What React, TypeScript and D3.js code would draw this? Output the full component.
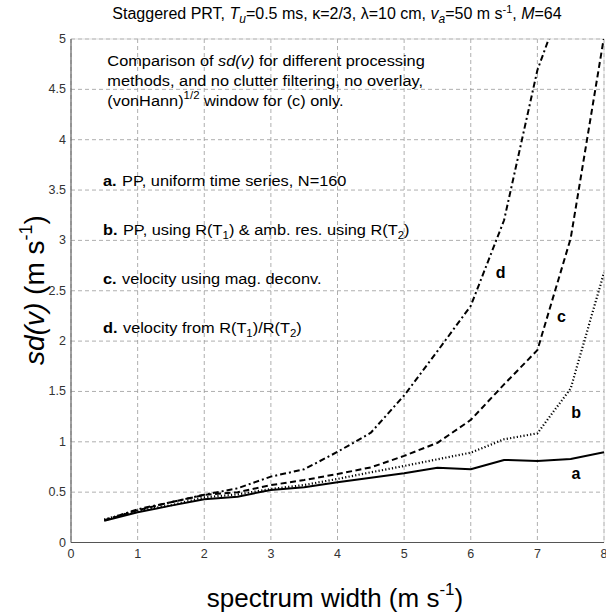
import React from "react";
import * as d3 from "d3";

// Spectrum width (m s^-1) at which each method was evaluated
const widths = [0.5, 1, 1.5, 2, 2.5, 3, 3.5, 4, 4.5, 5, 5.5, 6, 6.5, 7, 7.5, 8];

// sd(v) in m s^-1 for each processing method
const sdA = [0.216, 0.3, 0.366, 0.429, 0.455, 0.522, 0.548, 0.598, 0.644, 0.688, 0.743, 0.727, 0.82, 0.81, 0.83, 0.896];
const sdB = [0.23, 0.316, 0.37, 0.448, 0.478, 0.531, 0.571, 0.631, 0.697, 0.76, 0.826, 0.892, 1.025, 1.084, 1.53, 2.68];
const sdC = [0.22, 0.32, 0.4, 0.472, 0.5, 0.57, 0.62, 0.68, 0.746, 0.86, 0.99, 1.217, 1.57, 1.91, 3.02, 5.02];
const sdD = [0.22, 0.33, 0.4, 0.475, 0.538, 0.654, 0.727, 0.9, 1.09, 1.46, 1.9, 2.35, 3.2, 4.69, 5.6, 6.5];

const xTicks = [0, 1, 2, 3, 4, 5, 6, 7, 8];
const yTicks = [0, 0.5, 1, 1.5, 2, 2.5, 3, 3.5, 4, 4.5, 5];

const W = 606;
const H = 615;
const left = 71;
const right = 604;
const top = 39;
const bottom = 542.5;

const FONT = "'Liberation Sans', Arial, Helvetica, sans-serif";

export default function App() {
  const x = d3.scaleLinear().domain([0, 8]).range([left, right]);
  const y = d3.scaleLinear().domain([0, 5]).range([bottom, top]);

  const line = d3
    .line<[number, number]>()
    .x((d) => x(d[0]))
    .y((d) => y(d[1]));

  const series = [
    { key: "a", values: sdA, dash: undefined as string | undefined, width: 2 },
    { key: "b", values: sdB, dash: "1.2,2.2", width: 2.2 },
    { key: "c", values: sdC, dash: "6,3.5", width: 2 },
    { key: "d", values: sdD, dash: "6,3,2,3", width: 2 },
  ];

  // curve tags, placed in data units
  const curveLabels = [
    { t: "d", vx: 6.45, vy: 2.63 },
    { t: "c", vx: 7.36, vy: 2.19 },
    { t: "b", vx: 7.58, vy: 1.24 },
    { t: "a", vx: 7.58, vy: 0.63 },
  ];

  const gridColor = "#9a9a9a";

  return (
    <svg
      width={W}
      height={H}
      style={{ position: "absolute", left: 0, top: 0, background: "#fff" }}
      fontFamily={FONT}
    >
      <defs>
        <clipPath id="plotClip">
          <rect x={left} y={top} width={right - left} height={bottom - top} />
        </clipPath>
      </defs>

      {/* grid */}
      {xTicks.map((t) => (
        <line
          key={"gx" + t}
          x1={x(t)}
          x2={x(t)}
          y1={top}
          y2={bottom}
          stroke={gridColor}
          strokeWidth={0.8}
          strokeDasharray="4,3"
        />
      ))}
      {yTicks.map((t) => (
        <line
          key={"gy" + t}
          x1={left}
          x2={right}
          y1={y(t)}
          y2={y(t)}
          stroke={gridColor}
          strokeWidth={0.8}
          strokeDasharray="4,3"
        />
      ))}

      {/* frame */}
      <rect x={left} y={top} width={right - left} height={bottom - top} fill="none" stroke="#c8c8c8" strokeWidth={0.6} />
      <line x1={left} x2={left} y1={top} y2={bottom} stroke="#555" strokeWidth={1} />
      <line x1={left} x2={right} y1={bottom} y2={bottom} stroke="#555" strokeWidth={1} />

      {/* tick labels */}
      {yTicks.map((t) => (
        <text key={"ty" + t} x={left - 5} y={y(t) + 4} textAnchor="end" fontSize={12.5} fill="#333">
          {String(t)}
        </text>
      ))}
      {xTicks.map((t) => (
        <text key={"tx" + t} x={x(t)} y={bottom + 15} textAnchor="middle" fontSize={12.5} fill="#333">
          {String(t)}
        </text>
      ))}

      {/* curves */}
      <g clipPath="url(#plotClip)">
        {series.map((s) => (
          <path
            key={s.key}
            d={line(widths.map((w, i) => [w, s.values[i]] as [number, number])) || ""}
            fill="none"
            stroke="#000"
            strokeWidth={s.width}
            strokeDasharray={s.dash}
            strokeLinejoin="round"
          />
        ))}
      </g>

      {curveLabels.map((l) => (
        <text key={"cl" + l.t} x={x(l.vx)} y={y(l.vy)} textAnchor="middle" fontSize={16} fontWeight="bold" fill="#000">
          {l.t}
        </text>
      ))}

      {/* notes, slightly widened type */}
      <g fontSize={15} fill="#000" transform="translate(103,0) scale(1.09,1)">
        <text x={4} y={66}>
          Comparison of <tspan fontStyle="italic">sd(v)</tspan> for different processing
        </text>
        <text x={4} y={86}>
          methods, and no clutter filtering, no overlay,
        </text>
        <text x={4} y={106}>
          (vonHann)
          <tspan fontSize={10.5} dy={-7}>1/2</tspan>
          <tspan dy={7}> window for (c) only.</tspan>
        </text>
        <text x={0} y={186}>
          <tspan fontWeight="bold">a.</tspan>
          <tspan dx={5}>PP, uniform time series, N=160</tspan>
        </text>
        <text x={0} y={235}>
          <tspan fontWeight="bold">b.</tspan>
          <tspan dx={5}>PP, using R(T</tspan>
          <tspan fontSize={10.5} dy={4}>1</tspan>
          <tspan dy={-4}>) &amp; amb. res. using R(T</tspan>
          <tspan fontSize={10.5} dy={4}>2</tspan>
          <tspan dy={-4}>)</tspan>
        </text>
        <text x={0} y={284}>
          <tspan fontWeight="bold">c.</tspan>
          <tspan dx={5}>velocity using mag. deconv.</tspan>
        </text>
        <text x={0} y={333}>
          <tspan fontWeight="bold">d.</tspan>
          <tspan dx={5}>velocity from R(T</tspan>
          <tspan fontSize={10.5} dy={4}>1</tspan>
          <tspan dy={-4}>)/R(T</tspan>
          <tspan fontSize={10.5} dy={4}>2</tspan>
          <tspan dy={-4}>)</tspan>
        </text>
      </g>

      {/* title */}
      <text x={337} y={19} textAnchor="middle" fontSize={16} fill="#000">
        Staggered PRT, <tspan fontStyle="italic">T</tspan>
        <tspan fontStyle="italic" fontSize={12} dy={4}>u</tspan>
        <tspan dy={-4}>=0.5 ms, κ=2/3, λ=10 cm, </tspan>
        <tspan fontStyle="italic">v</tspan>
        <tspan fontStyle="italic" fontSize={12} dy={4}>a</tspan>
        <tspan dy={-4}>=50 m s</tspan>
        <tspan fontSize={11} dy={-6}>-1</tspan>
        <tspan dy={6}>, </tspan>
        <tspan fontStyle="italic">M</tspan>
        <tspan>=64</tspan>
      </text>

      {/* axis titles */}
      <text x={335} y={607} textAnchor="middle" fontSize={26} fill="#000">
        spectrum width (m s<tspan fontSize={17} dy={-12}>-1</tspan>
        <tspan dy={12}>)</tspan>
      </text>
      <text transform={`translate(44,${290}) rotate(-90)`} textAnchor="middle" fontSize={28} fill="#000">
        <tspan fontStyle="italic">sd(v)</tspan> (m s<tspan fontSize={18} dy={-12}>-1</tspan>
        <tspan dy={12}>)</tspan>
      </text>
    </svg>
  );
}
